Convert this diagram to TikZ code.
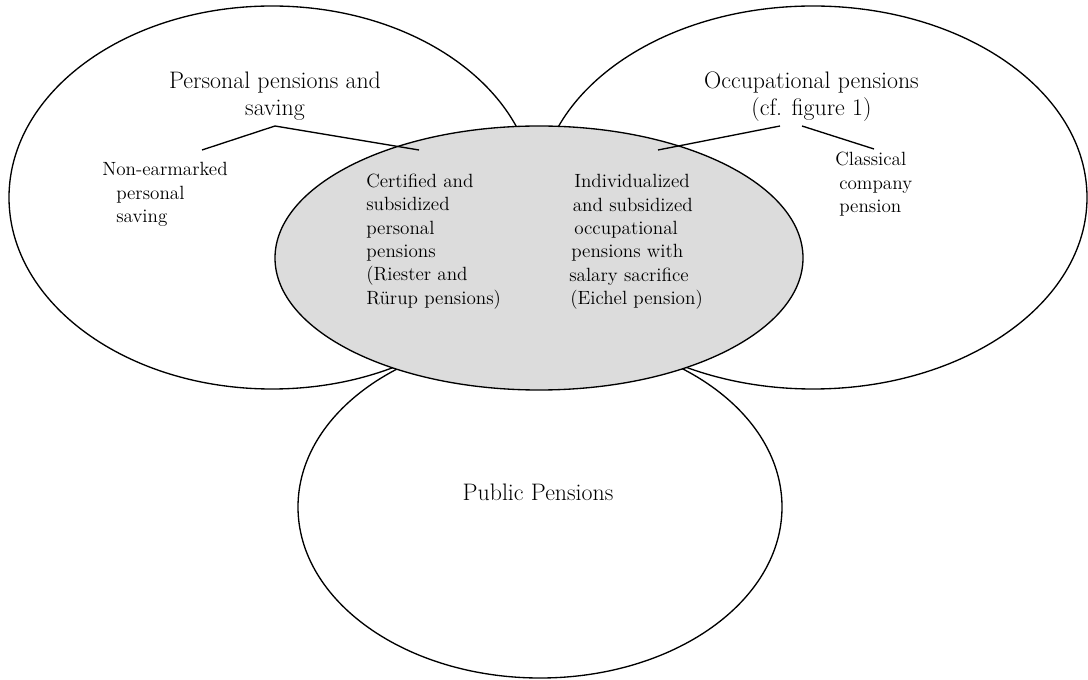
\documentclass[tikz,border=0pt]{standalone}
\usepackage{tikz}
\definecolor{lightgrey}{RGB}{220,220,220}

\begin{document}
\begin{tikzpicture}[x=0.75pt,y=-0.75pt,
  ring/.style={draw,line width=1pt},
  big/.style={font=\fontsize{17.9}{20.3}\selectfont,align=center,inner sep=0pt},
  small/.style={font=\fontsize{14.35}{17.55}\selectfont,align=left,inner sep=0pt,anchor=west}]
  \useasboundingbox (0,0) rectangle (1088,680);
  \draw[ring] (272,197.5) ellipse [x radius=263, y radius=191.5];
  \draw[ring] (813,197.5) ellipse [x radius=274, y radius=191.5];
  \draw[ring] (540,507) ellipse [x radius=242, y radius=171];
  \filldraw[ring,fill=lightgrey] (539,258) ellipse [x radius=264, y radius=132];
  \node[big] (personal) at (275,96.5) {Personal pensions and\\saving};
  \node[big] (occupational) at (811.5,96.5) {Occupational pensions\\(cf. figure 1)};
  \node[big] (public) at (538,492) {Public Pensions};
  \node[small] (nonearmarked) at (102,194.5) {Non-earmarked\\\hspace*{10.5pt}personal\\\hspace*{10.5pt}saving};
  \node[small] (certified) at (366,241.5) {Certified and\\subsidized\\personal\\pensions\\(Riester and\\R\"urup pensions)};
  \node[small] (eichel) at (569,242) {\hspace*{3.75pt}Individualized\\\hspace*{2.7pt}and subsidized\\\hspace*{3.75pt}occupational\\\hspace*{1.5pt}pensions with\\salary sacrifice\\\hspace*{0.75pt}(Eichel pension)};
  \node[small] (classical) at (835,184.5) {Classical\\\hspace*{3pt}company\\\hspace*{3pt}pension};
  \coordinate (papex) at (275,126);
  \coordinate (pleft) at (202,150);
  \coordinate (pright) at (419,150);
  \coordinate (oapex) at (780,126);
  \coordinate (oleft) at (658,150);
  \coordinate (ostart) at (802,126);
  \coordinate (oright) at (874,149);
  \draw[line width=1pt] (pleft) -- (papex) -- (pright);
  \draw[line width=1pt] (oleft) -- (oapex);
  \draw[line width=1pt] (ostart) -- (oright);
\end{tikzpicture}
\end{document}
